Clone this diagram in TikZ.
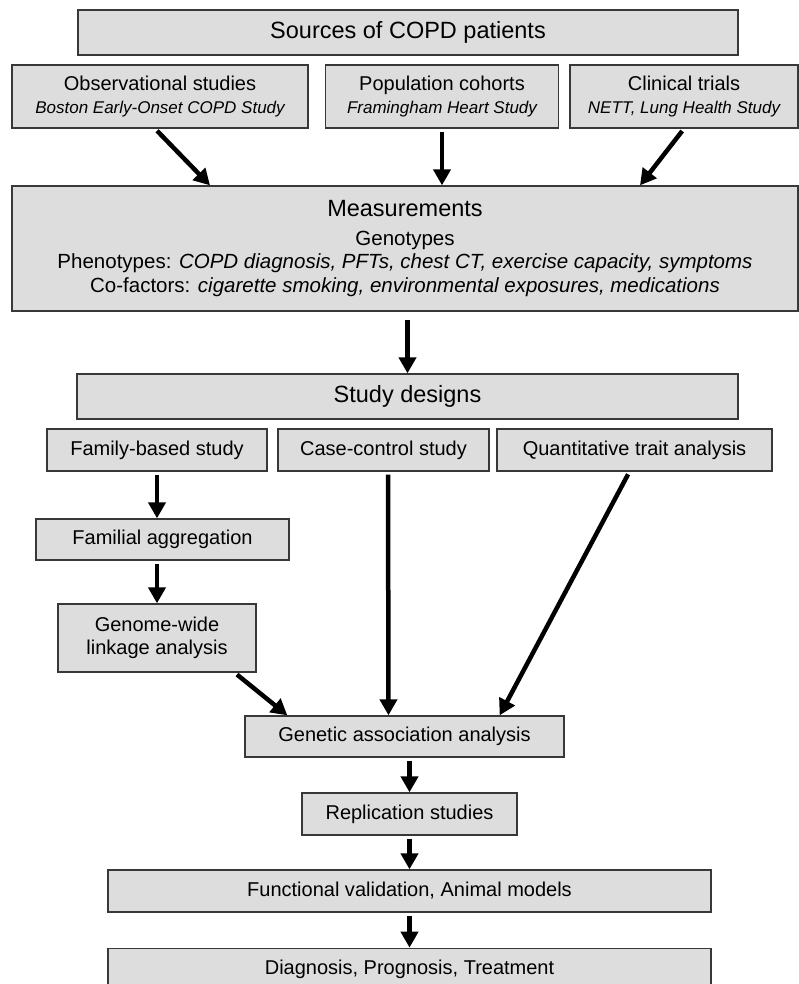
\documentclass[tikz,border=0pt]{standalone}
\usepackage{fontspec}
\setmainfont{Liberation Sans}
\usetikzlibrary{positioning, arrows.meta}
\definecolor{boxfill}{RGB}{221,221,221}
\definecolor{boxline}{RGB}{56,56,56}
\newcommand{\srcnote}[1]{{\fontsize{17}{20}\selectfont\itshape #1}}

\begin{document}
\begin{tikzpicture}[
    x=1pt, y=-1pt,
    >={Triangle[length=16pt, width=17pt]},
    box/.style={draw=boxline, line width=1.3pt, fill=boxfill, rectangle, align=center,
                inner sep=0pt, font=\fontsize{20}{23}\selectfont},
    headbox/.style={box, font=\fontsize{23.5}{28}\selectfont},
    arr/.style={->, line width=4.5pt, shorten <=3pt},
]
\useasboundingbox (0,0) rectangle (799,984);

% Sources
\node[headbox, minimum width=660pt, minimum height=45pt] (src) at (408,32.5) {Sources of COPD patients};
\node[box, minimum width=296pt, minimum height=63pt] (obs) at (160,96.5)
    {Observational studies\\\srcnote{Boston Early-Onset COPD Study}};
\node[box, minimum width=233pt, minimum height=63pt] (pop) at (442,96.5)
    {Population cohorts\\\srcnote{Framingham Heart Study}};
\node[box, minimum width=228pt, minimum height=63pt] (clin) at (684,96.5)
    {Clinical trials\\\srcnote{NETT, Lung Health Study}};

% Measurements
\node[box, minimum width=786pt, minimum height=125pt, font=\fontsize{20.5}{23.8}\selectfont] (meas) at (405,248.5) {
    {\fontsize{23.5}{28}\selectfont Measurements}\\[5pt]
    Genotypes\\
    Phenotypes: \textit{COPD diagnosis, PFTs, chest CT, exercise capacity, symptoms}\\
    Co-factors: \textit{cigarette smoking, environmental exposures, medications}
};

% Study designs
\node[headbox, minimum width=661pt, minimum height=45pt] (design) at (407.5,396.5) {Study designs};
\node[box, minimum width=220pt, minimum height=42pt] (family) at (157,450) {Family-based study};
\node[box, minimum width=211pt, minimum height=42pt] (casectl) at (383.5,450) {Case-control study};
\node[box, minimum width=275pt, minimum height=42pt] (quant) at (634.5,450) {Quantitative trait analysis};

% Family branch
\node[box, minimum width=253pt, minimum height=41pt] (famagg) at (162.5,539.5) {Familial aggregation};
\node[box, minimum width=198pt, minimum height=68pt] (linkage) at (157,638) {Genome-wide\\linkage analysis};

% Association and follow-up
\node[box, minimum width=319pt, minimum height=41pt] (assoc) at (404.5,736.5) {Genetic association analysis};
\node[box, minimum width=215pt, minimum height=42pt] (repl) at (409.5,814) {Replication studies};
\node[box, minimum width=603pt, minimum height=42pt] (func) at (409.5,891) {Functional validation, Animal models};
\node[box, minimum width=603pt, minimum height=42pt, below=35pt of func] (diag) {Diagnosis, Prognosis, Treatment};

% Arrows
\draw[arr] ([xshift=-5pt]obs.south) -- ([xshift=-195pt]meas.north);
\draw[arr] (pop.south) -- (pop.south |- meas.north);
\draw[arr] (clin.south) -- ([xshift=235pt]meas.north);
\draw[arr, shorten <=8pt] (design.north |- meas.south) -- (design.north);
\draw[arr] (family.south) -- (family.south |- famagg.north);
\draw[arr] (linkage.north |- famagg.south) -- (linkage.north);
\draw[arr] ([xshift=-22pt]linkage.south east) -- ([xshift=43pt]assoc.north west);
\draw[arr] ([xshift=4.5pt]casectl.south) -- ([xshift=-16pt]assoc.north);
\draw[arr] ([xshift=-5pt]quant.south) -- ([xshift=-65pt]assoc.north east);
\draw[arr] (repl.north |- assoc.south) -- (repl.north);
\draw[arr] (repl.south) -- (repl.south |- func.north);
\draw[arr] (func.south) -- (diag.north);

\end{tikzpicture}
\end{document}
